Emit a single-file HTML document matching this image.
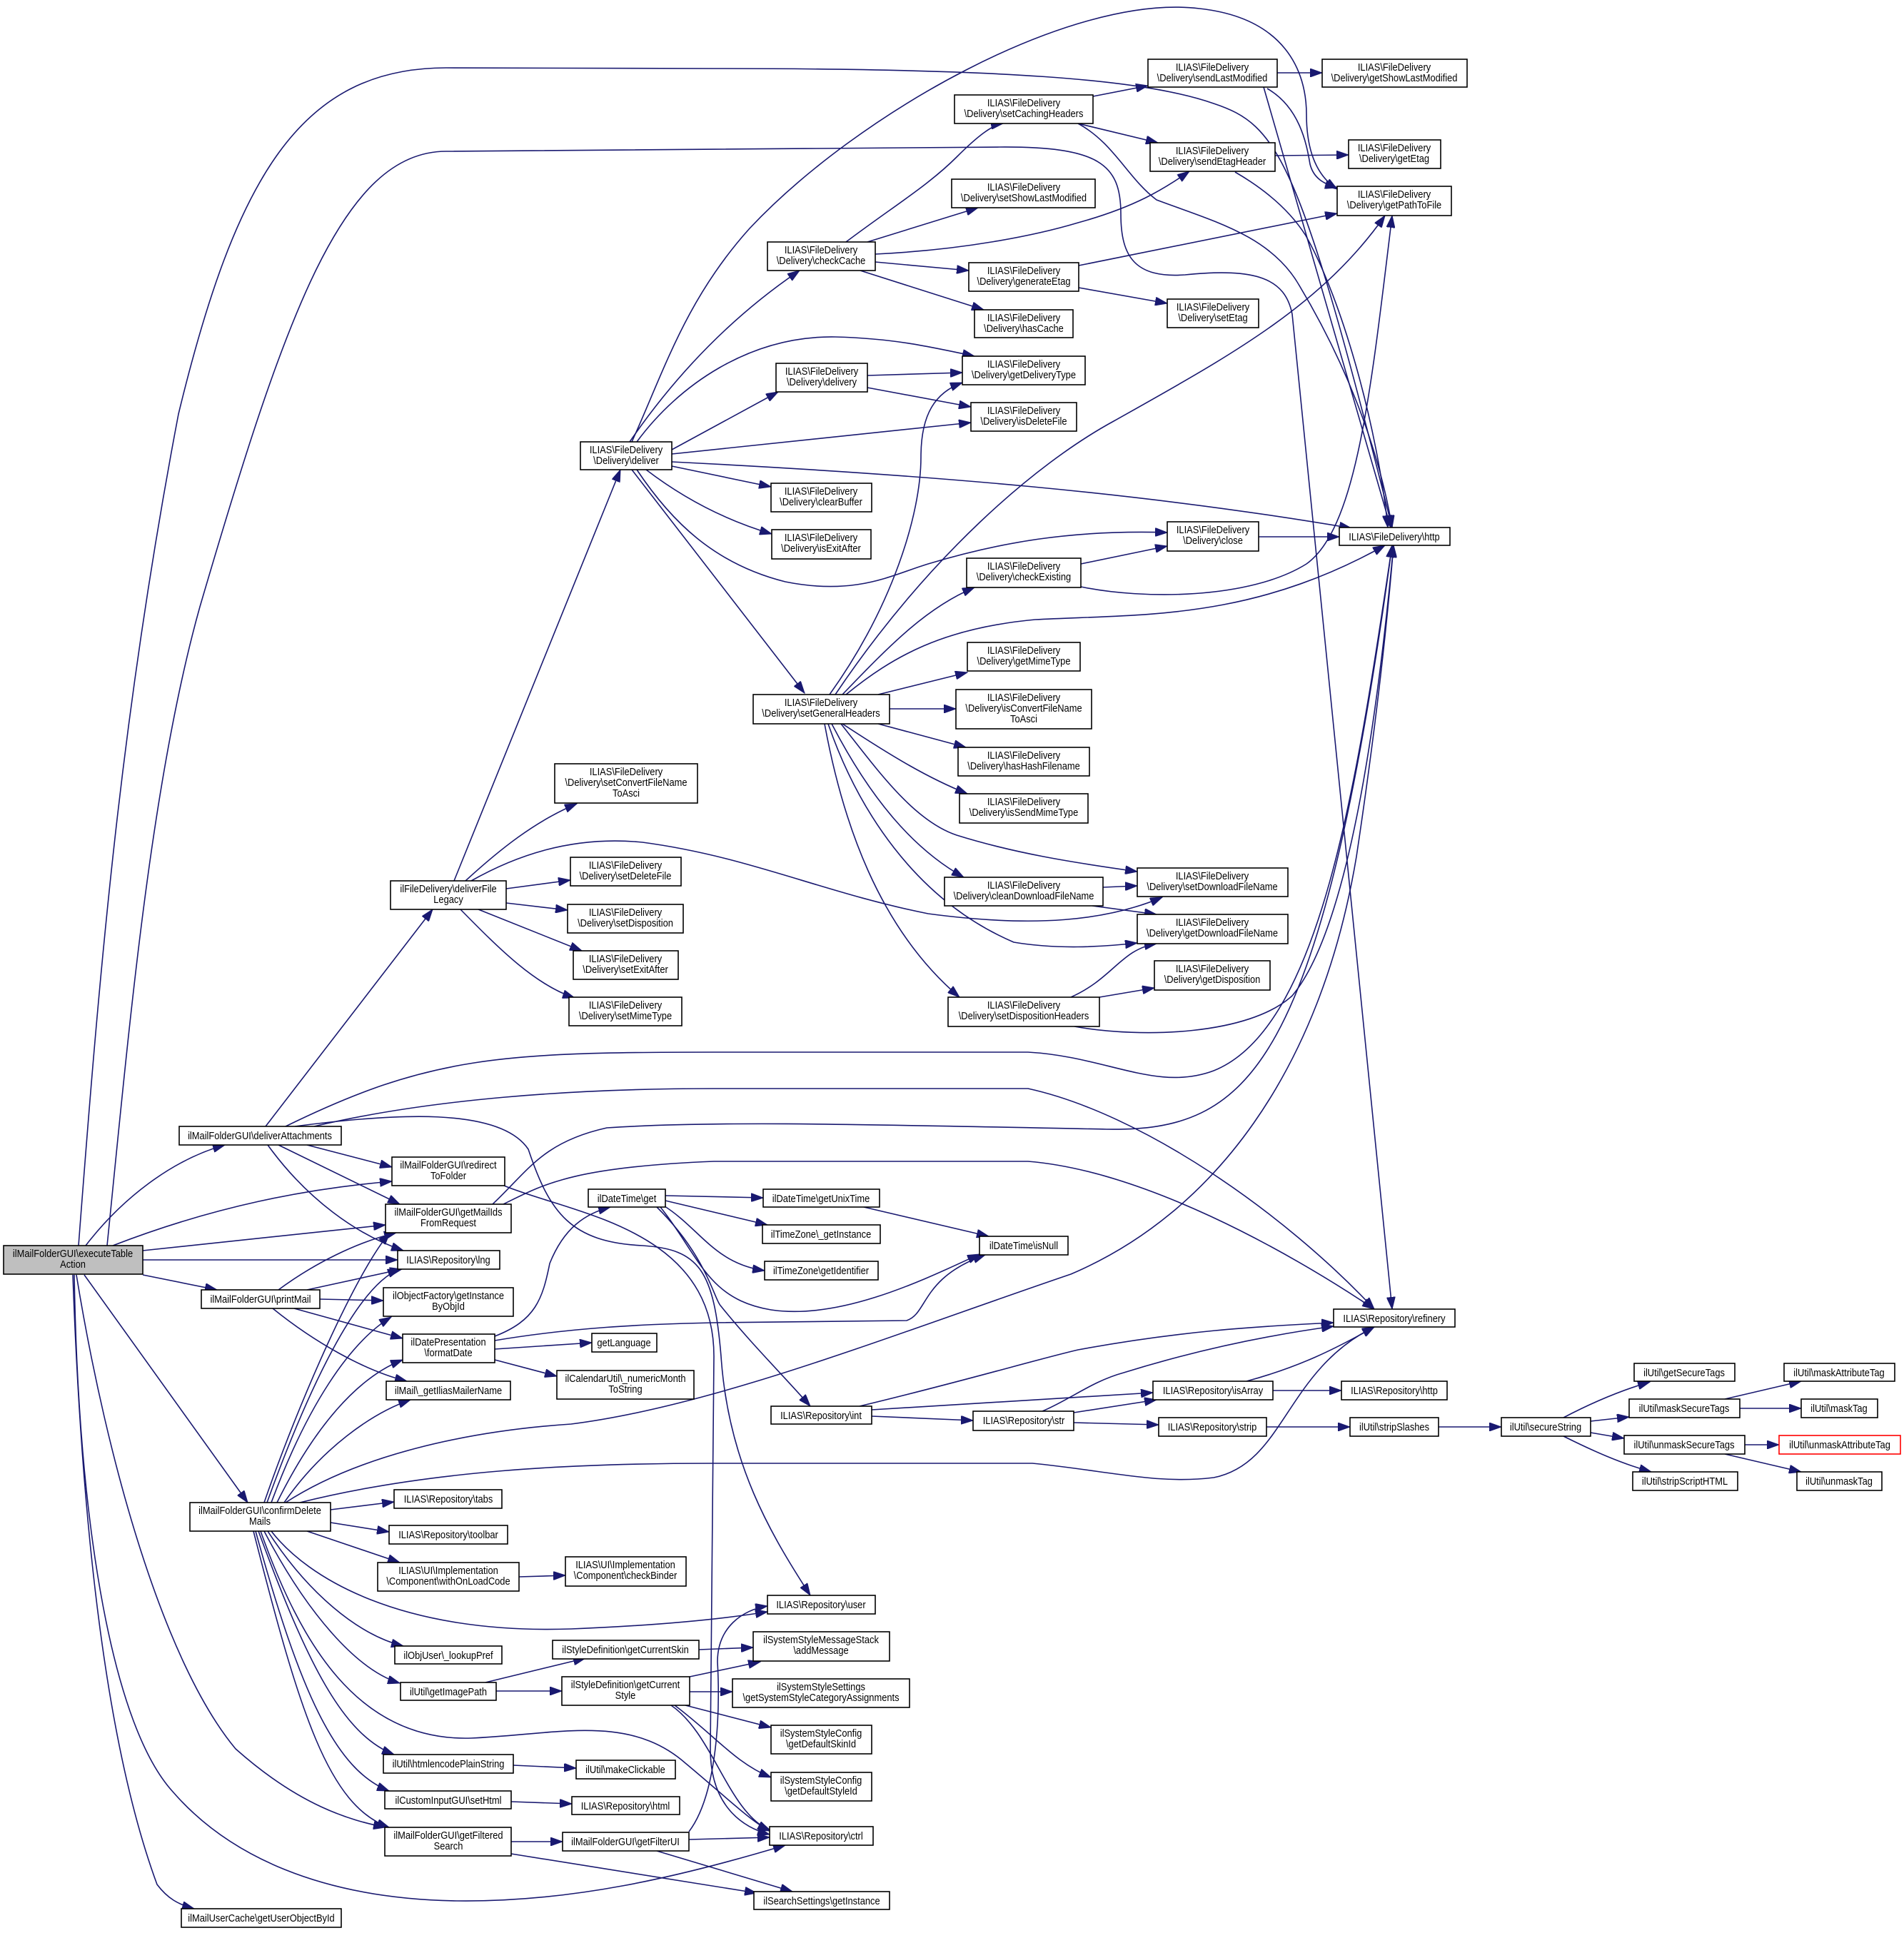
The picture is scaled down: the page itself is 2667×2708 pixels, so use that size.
<!DOCTYPE html>
<html><head><meta charset="utf-8"><style>
html,body{margin:0;padding:0;background:#fff}
svg{display:block}
text{font-family:"Liberation Sans",Arial,sans-serif;font-size:15px;text-anchor:middle;fill:#000}
.n rect{fill:#fff;stroke:#000;stroke-width:1.6}
.e path{fill:none;stroke:#191970;stroke-width:1.6;marker-end:url(#a)}
</style></head><body>
<svg width="2667" height="2708" viewBox="0 0 2667 2708" xmlns="http://www.w3.org/2000/svg">
<defs><marker id="a" markerUnits="userSpaceOnUse" markerWidth="18" markerHeight="12" refX="17" refY="6" orient="auto"><path d="M0,0 L17,6 L0,12 z" fill="#191970" stroke="#191970"/></marker></defs>
<g class="e">
<path d="M120,1745 C170,1680 240,1625 315,1604"/>
<path d="M158,1745 C300,1690 430,1665 549,1655"/>
<path d="M200,1752 L540,1716"/>
<path d="M200,1765 L557,1765"/>
<path d="M200,1786 L304,1807"/>
<path d="M118,1786 L347,2105"/>
<path d="M107,1786 C150,2050 230,2330 330,2450 C420,2530 490,2550 540,2560"/>
<path d="M104,1786 C110,2150 160,2420 242,2510 C320,2600 450,2660 640,2663 C800,2665 950,2630 1100,2585"/>
<path d="M102,1786 C115,2150 150,2450 220,2640 C235,2660 250,2668 272,2674"/>
<path d="M110,1745 C140,1350 170,1000 250,580 C330,250 420,95 625,95 L1000,96 C1400,96 1600,110 1700,145 C1790,175 1820,220 1950,739"/>
<path d="M150,1745 C180,1450 210,1100 280,850 C400,440 480,212 625,212 L1400,206 C1540,205 1570,230 1570,300 C1570,360 1590,390 1660,385 C1760,375 1800,390 1810,440 L1950,1834"/>
<path d="M372,1578 L606,1274"/>
<path d="M400,1578 C600,1480 700,1474 1000,1474 L1440,1474 C1550,1480 1620,1530 1700,1500 C1850,1440 1900,1100 1950,764"/>
<path d="M440,1578 C600,1540 800,1525 1000,1525 L1440,1525 C1600,1560 1800,1700 1925,1834"/>
<path d="M430,1604 L549,1635"/>
<path d="M390,1604 L560,1687"/>
<path d="M375,1604 C430,1680 500,1730 565,1752"/>
<path d="M413,1578 C550,1560 700,1550 740,1610 C770,1700 800,1740 900,1745 C980,1750 1000,1780 1010,1900 C1020,2050 1080,2150 1135,2235"/>
<path d="M390,1807 C440,1770 500,1740 555,1727"/>
<path d="M430,1807 L563,1778"/>
<path d="M448,1820 L537,1822"/>
<path d="M412,1833 L564,1875"/>
<path d="M382,1833 C440,1880 510,1920 570,1935"/>
<path d="M370,2105 C420,1960 500,1780 546,1727"/>
<path d="M374,2105 C430,1950 500,1800 560,1778"/>
<path d="M380,2105 C430,1970 490,1880 548,1845"/>
<path d="M388,2105 C440,2000 500,1930 564,1905"/>
<path d="M398,2105 C450,2030 520,1980 575,1961"/>
<path d="M400,2105 C500,2040 650,2005 800,1995 C1000,1970 1250,1870 1500,1785 C1700,1700 1850,1500 1900,1200 C1930,1000 1945,850 1952,764"/>
<path d="M420,2105 C600,2060 800,2050 1000,2050 L1446,2050 C1550,2060 1620,2080 1700,2070 C1800,2050 1800,1920 1925,1859"/>
<path d="M463,2115 L552,2104"/>
<path d="M463,2133 L545,2146"/>
<path d="M430,2145 L560,2189"/>
<path d="M380,2145 C430,2210 560,2290 800,2282 C900,2278 1000,2270 1075,2258"/>
<path d="M375,2145 C430,2230 500,2290 565,2306"/>
<path d="M370,2145 C430,2260 500,2340 560,2358"/>
<path d="M362,2145 C430,2330 480,2430 552,2458"/>
<path d="M358,2145 C420,2370 470,2480 545,2509"/>
<path d="M355,2145 C420,2400 460,2530 545,2560"/>
<path d="M365,2145 C420,2300 500,2440 660,2435 C780,2430 880,2400 960,2470 C1020,2520 1050,2550 1078,2565"/>
<path d="M706,1661 C800,1700 1000,1720 1000,1900 L995,2450 C995,2530 1040,2560 1078,2570"/>
<path d="M690,1687 C740,1640 760,1600 850,1580 C1000,1570 1200,1575 1550,1582 C1750,1585 1850,1500 1950,764"/>
<path d="M705,1687 C760,1660 800,1635 1000,1627 L1440,1627 C1600,1640 1800,1750 1925,1834"/>
<path d="M693,1872 C750,1850 760,1820 770,1770 C790,1720 820,1700 855,1691"/>
<path d="M693,1878 C800,1860 900,1855 1000,1853 L1270,1850 C1300,1840 1290,1790 1380,1758"/>
<path d="M693,1890 L829,1881"/>
<path d="M693,1905 L780,1928"/>
<path d="M932,1675 L1069,1678"/>
<path d="M932,1682 L1075,1716"/>
<path d="M928,1688 C980,1720 1000,1770 1071,1780"/>
<path d="M925,1691 C980,1760 990,1820 1080,1835 C1180,1850 1300,1790 1372,1757"/>
<path d="M920,1691 C990,1760 1000,1820 1010,1830 C1050,1880 1100,1930 1135,1970"/>
<path d="M1210,1691 L1385,1732"/>
<path d="M1204,1970 C1350,1935 1450,1905 1510,1891 C1650,1865 1760,1858 1868,1853"/>
<path d="M1221,1975 L1615,1951"/>
<path d="M1221,1984 L1363,1990"/>
<path d="M1460,1977 C1500,1960 1530,1935 1574,1923 C1680,1890 1780,1870 1868,1858"/>
<path d="M1504,1979 L1620,1961"/>
<path d="M1504,1993 L1623,1996"/>
<path d="M1746,1935 C1820,1915 1870,1890 1925,1859"/>
<path d="M1783,1948 L1879,1948"/>
<path d="M1774,1999 L1891,1999"/>
<path d="M2015,1999 L2103,1999"/>
<path d="M2190,1986 C2230,1965 2270,1948 2311,1936"/>
<path d="M2228,1991 L2282,1985"/>
<path d="M2228,2007 L2275,2015"/>
<path d="M2190,2012 C2230,2032 2270,2050 2313,2062"/>
<path d="M2416,1960 L2523,1935"/>
<path d="M2437,1973 L2523,1973"/>
<path d="M2444,2024 L2492,2024"/>
<path d="M2416,2037 L2523,2062"/>
<path d="M636,1234 L869,658"/>
<path d="M652,1234 C700,1190 750,1150 808,1126"/>
<path d="M660,1234 C720,1200 800,1170 900,1180 C1050,1200 1150,1250 1300,1280 C1450,1300 1550,1290 1628,1257"/>
<path d="M709,1245 L799,1233"/>
<path d="M709,1265 L795,1275"/>
<path d="M670,1274 L815,1332"/>
<path d="M645,1274 C700,1330 750,1380 805,1398"/>
<path d="M882,619 C950,520 1030,440 1120,379"/>
<path d="M885,619 C930,520 960,420 1050,320 C1200,160 1500,-10 1680,12 C1800,25 1830,100 1830,160 C1830,220 1850,250 1873,265"/>
<path d="M892,619 C950,540 1050,470 1170,472 C1250,474 1300,485 1365,499"/>
<path d="M941,630 L1090,549"/>
<path d="M941,636 L1360,592"/>
<path d="M941,647 C1300,665 1600,690 1893,740"/>
<path d="M941,653 L1080,682"/>
<path d="M905,658 C960,700 1020,730 1081,748"/>
<path d="M892,658 C940,730 1000,790 1100,815 C1200,835 1250,805 1300,790 C1400,760 1500,742 1635,746"/>
<path d="M885,658 L1127,971"/>
<path d="M1185,339 C1250,290 1300,260 1340,220 C1370,190 1390,175 1405,173"/>
<path d="M1215,339 L1370,291"/>
<path d="M1226,356 C1350,350 1450,330 1510,312 C1590,290 1630,265 1666,240"/>
<path d="M1226,367 L1357,379"/>
<path d="M1205,379 L1378,434"/>
<path d="M1531,135 L1608,120"/>
<path d="M1510,173 L1622,200"/>
<path d="M1510,173 C1560,200 1580,250 1620,280 C1700,310 1780,330 1820,400 C1880,500 1930,620 1950,739"/>
<path d="M1789,102 L1852,102"/>
<path d="M1775,124 C1820,150 1830,200 1835,230 C1840,250 1855,258 1873,263"/>
<path d="M1770,122 L1948,739"/>
<path d="M1786,218 L1889,217"/>
<path d="M1730,241 C1780,270 1810,300 1829,330 C1880,420 1930,600 1944,739"/>
<path d="M1511,372 L1873,299"/>
<path d="M1511,403 L1635,425"/>
<path d="M1215,526 L1348,522"/>
<path d="M1215,543 L1360,570"/>
<path d="M1763,752 L1876,752"/>
<path d="M1514,790 L1635,765"/>
<path d="M1514,822 C1600,840 1750,840 1830,790 C1900,740 1920,550 1950,302"/>
<path d="M1162,973 C1250,850 1290,720 1290,640 C1290,580 1310,550 1348,536"/>
<path d="M1170,973 C1300,780 1450,650 1560,590 C1720,500 1850,430 1940,302"/>
<path d="M1180,973 C1250,900 1300,850 1365,823"/>
<path d="M1185,973 C1250,920 1320,880 1450,868 C1600,860 1750,870 1940,764"/>
<path d="M1230,973 L1355,942"/>
<path d="M1246,993 L1339,993"/>
<path d="M1230,1014 L1353,1047"/>
<path d="M1180,1014 C1250,1060 1300,1090 1355,1112"/>
<path d="M1178,1014 C1230,1080 1280,1150 1340,1170 C1420,1195 1500,1208 1593,1221"/>
<path d="M1165,1014 C1220,1120 1280,1190 1350,1229"/>
<path d="M1160,1014 C1200,1130 1280,1260 1420,1320 C1480,1330 1540,1327 1593,1321"/>
<path d="M1155,1014 C1180,1150 1230,1300 1344,1397"/>
<path d="M1545,1243 L1593,1241"/>
<path d="M1530,1269 L1620,1281"/>
<path d="M1500,1397 C1560,1370 1570,1330 1620,1322"/>
<path d="M1540,1397 L1617,1384"/>
<path d="M1505,1438 C1600,1455 1750,1450 1810,1395 C1890,1300 1930,1000 1952,764"/>
<path d="M727,2209 L792,2207"/>
<path d="M680,2357 L820,2323"/>
<path d="M695,2369 L787,2369"/>
<path d="M979,2311 L1055,2308"/>
<path d="M966,2349 L1065,2328"/>
<path d="M966,2370 L1026,2370"/>
<path d="M960,2389 L1080,2420"/>
<path d="M945,2389 C1000,2430 1030,2470 1080,2490"/>
<path d="M940,2389 C1000,2430 1020,2540 1080,2565"/>
<path d="M719,2473 L807,2477"/>
<path d="M716,2524 L801,2527"/>
<path d="M716,2580 L788,2580"/>
<path d="M716,2597 L1060,2652"/>
<path d="M965,2577 L1078,2574"/>
<path d="M920,2593 L1110,2650"/>
<path d="M965,2566 C1000,2520 1010,2420 1005,2328 C1005,2280 1040,2255 1075,2250"/>
</g>
<g class="n">
<rect x="5" y="1745" width="195" height="40" style="fill:#bfbfbf"/><text transform="translate(102,1761) scale(.86,1)">ilMailFolderGUI\executeTable</text><text transform="translate(102,1776) scale(.86,1)">Action</text>
<rect x="251" y="1578" width="227" height="26"/><text transform="translate(364,1596) scale(.86,1)">ilMailFolderGUI\deliverAttachments</text>
<rect x="282" y="1807" width="166" height="26"/><text transform="translate(365,1825) scale(.86,1)">ilMailFolderGUI\printMail</text>
<rect x="266" y="2105" width="197" height="40"/><text transform="translate(364,2121) scale(.86,1)">ilMailFolderGUI\confirmDelete</text><text transform="translate(364,2136) scale(.86,1)">Mails</text>
<rect x="254" y="2674" width="224" height="26"/><text transform="translate(366,2692) scale(.86,1)">ilMailUserCache\getUserObjectById</text>
<rect x="547" y="1234" width="162" height="40"/><text transform="translate(628,1250) scale(.86,1)">ilFileDelivery\deliverFile</text><text transform="translate(628,1265) scale(.86,1)">Legacy</text>
<rect x="549" y="1621" width="158" height="40"/><text transform="translate(628,1637) scale(.86,1)">ilMailFolderGUI\redirect</text><text transform="translate(628,1652) scale(.86,1)">ToFolder</text>
<rect x="540" y="1687" width="176" height="40"/><text transform="translate(628,1703) scale(.86,1)">ilMailFolderGUI\getMailIds</text><text transform="translate(628,1718) scale(.86,1)">FromRequest</text>
<rect x="557" y="1752" width="143" height="26"/><text transform="translate(628,1770) scale(.86,1)">ILIAS\Repository\lng</text>
<rect x="537" y="1804" width="182" height="40"/><text transform="translate(628,1820) scale(.86,1)">ilObjectFactory\getInstance</text><text transform="translate(628,1835) scale(.86,1)">ByObjId</text>
<rect x="564" y="1869" width="129" height="40"/><text transform="translate(628,1885) scale(.86,1)">ilDatePresentation</text><text transform="translate(628,1900) scale(.86,1)">\formatDate</text>
<rect x="541" y="1935" width="174" height="26"/><text transform="translate(628,1953) scale(.86,1)">ilMail\_getIliasMailerName</text>
<rect x="552" y="2087" width="151" height="26"/><text transform="translate(628,2105) scale(.86,1)">ILIAS\Repository\tabs</text>
<rect x="545" y="2137" width="166" height="26"/><text transform="translate(628,2155) scale(.86,1)">ILIAS\Repository\toolbar</text>
<rect x="529" y="2189" width="198" height="40"/><text transform="translate(628,2205) scale(.86,1)">ILIAS\UI\Implementation</text><text transform="translate(628,2220) scale(.86,1)">\Component\withOnLoadCode</text>
<rect x="553" y="2306" width="150" height="25"/><text transform="translate(628,2324) scale(.86,1)">ilObjUser\_lookupPref</text>
<rect x="561" y="2357" width="134" height="25"/><text transform="translate(628,2375) scale(.86,1)">ilUtil\getImagePath</text>
<rect x="537" y="2458" width="182" height="26"/><text transform="translate(628,2476) scale(.86,1)">ilUtil\htmlencodePlainString</text>
<rect x="539" y="2509" width="177" height="25"/><text transform="translate(628,2527) scale(.86,1)">ilCustomInputGUI\setHtml</text>
<rect x="539" y="2560" width="177" height="40"/><text transform="translate(628,2576) scale(.86,1)">ilMailFolderGUI\getFiltered</text><text transform="translate(628,2591) scale(.86,1)">Search</text>
<rect x="813" y="619" width="128" height="39"/><text transform="translate(877,635) scale(.86,1)">ILIAS\FileDelivery</text><text transform="translate(877,650) scale(.86,1)">\Delivery\deliver</text>
<rect x="777" y="1070" width="200" height="55"/><text transform="translate(877,1086) scale(.86,1)">ILIAS\FileDelivery</text><text transform="translate(877,1101) scale(.86,1)">\Delivery\setConvertFileName</text><text transform="translate(877,1116) scale(.86,1)">ToAsci</text>
<rect x="799" y="1201" width="155" height="40"/><text transform="translate(876,1217) scale(.86,1)">ILIAS\FileDelivery</text><text transform="translate(876,1232) scale(.86,1)">\Delivery\setDeleteFile</text>
<rect x="795" y="1267" width="162" height="40"/><text transform="translate(876,1283) scale(.86,1)">ILIAS\FileDelivery</text><text transform="translate(876,1298) scale(.86,1)">\Delivery\setDisposition</text>
<rect x="803" y="1332" width="147" height="40"/><text transform="translate(876,1348) scale(.86,1)">ILIAS\FileDelivery</text><text transform="translate(876,1363) scale(.86,1)">\Delivery\setExitAfter</text>
<rect x="797" y="1397" width="158" height="40"/><text transform="translate(876,1413) scale(.86,1)">ILIAS\FileDelivery</text><text transform="translate(876,1428) scale(.86,1)">\Delivery\setMimeType</text>
<rect x="824" y="1666" width="108" height="25"/><text transform="translate(878,1684) scale(.86,1)">ilDateTime\get</text>
<rect x="829" y="1868" width="91" height="26"/><text transform="translate(874,1886) scale(.86,1)">getLanguage</text>
<rect x="780" y="1920" width="192" height="40"/><text transform="translate(876,1936) scale(.86,1)">ilCalendarUtil\_numericMonth</text><text transform="translate(876,1951) scale(.86,1)">ToString</text>
<rect x="792" y="2181" width="169" height="41"/><text transform="translate(876,2197) scale(.86,1)">ILIAS\UI\Implementation</text><text transform="translate(876,2212) scale(.86,1)">\Component\checkBinder</text>
<rect x="774" y="2298" width="205" height="26"/><text transform="translate(876,2316) scale(.86,1)">ilStyleDefinition\getCurrentSkin</text>
<rect x="787" y="2349" width="179" height="40"/><text transform="translate(876,2365) scale(.86,1)">ilStyleDefinition\getCurrent</text><text transform="translate(876,2380) scale(.86,1)">Style</text>
<rect x="807" y="2466" width="139" height="26"/><text transform="translate(876,2484) scale(.86,1)">ilUtil\makeClickable</text>
<rect x="801" y="2517" width="151" height="25"/><text transform="translate(876,2535) scale(.86,1)">ILIAS\Repository\html</text>
<rect x="788" y="2567" width="177" height="26"/><text transform="translate(876,2585) scale(.86,1)">ilMailFolderGUI\getFilterUI</text>
<rect x="1075" y="339" width="151" height="40"/><text transform="translate(1150,355) scale(.86,1)">ILIAS\FileDelivery</text><text transform="translate(1150,370) scale(.86,1)">\Delivery\checkCache</text>
<rect x="1087" y="509" width="128" height="40"/><text transform="translate(1151,525) scale(.86,1)">ILIAS\FileDelivery</text><text transform="translate(1151,540) scale(.86,1)">\Delivery\delivery</text>
<rect x="1080" y="677" width="141" height="40"/><text transform="translate(1150,693) scale(.86,1)">ILIAS\FileDelivery</text><text transform="translate(1150,708) scale(.86,1)">\Delivery\clearBuffer</text>
<rect x="1081" y="742" width="139" height="41"/><text transform="translate(1150,758) scale(.86,1)">ILIAS\FileDelivery</text><text transform="translate(1150,773) scale(.86,1)">\Delivery\isExitAfter</text>
<rect x="1055" y="973" width="191" height="41"/><text transform="translate(1150,989) scale(.86,1)">ILIAS\FileDelivery</text><text transform="translate(1150,1004) scale(.86,1)">\Delivery\setGeneralHeaders</text>
<rect x="1069" y="1666" width="163" height="25"/><text transform="translate(1150,1684) scale(.86,1)">ilDateTime\getUnixTime</text>
<rect x="1068" y="1716" width="165" height="26"/><text transform="translate(1150,1734) scale(.86,1)">ilTimeZone\_getInstance</text>
<rect x="1071" y="1767" width="159" height="26"/><text transform="translate(1150,1785) scale(.86,1)">ilTimeZone\getIdentifier</text>
<rect x="1080" y="1970" width="141" height="25"/><text transform="translate(1150,1988) scale(.86,1)">ILIAS\Repository\int</text>
<rect x="1075" y="2235" width="151" height="26"/><text transform="translate(1150,2253) scale(.86,1)">ILIAS\Repository\user</text>
<rect x="1055" y="2286" width="191" height="41"/><text transform="translate(1150,2302) scale(.86,1)">ilSystemStyleMessageStack</text><text transform="translate(1150,2317) scale(.86,1)">\addMessage</text>
<rect x="1026" y="2352" width="248" height="40"/><text transform="translate(1150,2368) scale(.86,1)">ilSystemStyleSettings</text><text transform="translate(1150,2383) scale(.86,1)">\getSystemStyleCategoryAssignments</text>
<rect x="1080" y="2417" width="141" height="40"/><text transform="translate(1150,2433) scale(.86,1)">ilSystemStyleConfig</text><text transform="translate(1150,2448) scale(.86,1)">\getDefaultSkinId</text>
<rect x="1080" y="2483" width="141" height="40"/><text transform="translate(1150,2499) scale(.86,1)">ilSystemStyleConfig</text><text transform="translate(1150,2514) scale(.86,1)">\getDefaultStyleId</text>
<rect x="1078" y="2559" width="145" height="26"/><text transform="translate(1150,2577) scale(.86,1)">ILIAS\Repository\ctrl</text>
<rect x="1056" y="2650" width="190" height="25"/><text transform="translate(1151,2668) scale(.86,1)">ilSearchSettings\getInstance</text>
<rect x="1337" y="133" width="194" height="40"/><text transform="translate(1434,149) scale(.86,1)">ILIAS\FileDelivery</text><text transform="translate(1434,164) scale(.86,1)">\Delivery\setCachingHeaders</text>
<rect x="1333" y="251" width="201" height="40"/><text transform="translate(1434,267) scale(.86,1)">ILIAS\FileDelivery</text><text transform="translate(1434,282) scale(.86,1)">\Delivery\setShowLastModified</text>
<rect x="1357" y="368" width="154" height="40"/><text transform="translate(1434,384) scale(.86,1)">ILIAS\FileDelivery</text><text transform="translate(1434,399) scale(.86,1)">\Delivery\generateEtag</text>
<rect x="1365" y="434" width="138" height="39"/><text transform="translate(1434,450) scale(.86,1)">ILIAS\FileDelivery</text><text transform="translate(1434,465) scale(.86,1)">\Delivery\hasCache</text>
<rect x="1348" y="499" width="172" height="40"/><text transform="translate(1434,515) scale(.86,1)">ILIAS\FileDelivery</text><text transform="translate(1434,530) scale(.86,1)">\Delivery\getDeliveryType</text>
<rect x="1360" y="564" width="148" height="40"/><text transform="translate(1434,580) scale(.86,1)">ILIAS\FileDelivery</text><text transform="translate(1434,595) scale(.86,1)">\Delivery\isDeleteFile</text>
<rect x="1354" y="782" width="160" height="41"/><text transform="translate(1434,798) scale(.86,1)">ILIAS\FileDelivery</text><text transform="translate(1434,813) scale(.86,1)">\Delivery\checkExisting</text>
<rect x="1355" y="900" width="158" height="40"/><text transform="translate(1434,916) scale(.86,1)">ILIAS\FileDelivery</text><text transform="translate(1434,931) scale(.86,1)">\Delivery\getMimeType</text>
<rect x="1339" y="966" width="190" height="55"/><text transform="translate(1434,982) scale(.86,1)">ILIAS\FileDelivery</text><text transform="translate(1434,997) scale(.86,1)">\Delivery\isConvertFileName</text><text transform="translate(1434,1012) scale(.86,1)">ToAsci</text>
<rect x="1342" y="1047" width="184" height="40"/><text transform="translate(1434,1063) scale(.86,1)">ILIAS\FileDelivery</text><text transform="translate(1434,1078) scale(.86,1)">\Delivery\hasHashFilename</text>
<rect x="1344" y="1112" width="180" height="41"/><text transform="translate(1434,1128) scale(.86,1)">ILIAS\FileDelivery</text><text transform="translate(1434,1143) scale(.86,1)">\Delivery\isSendMimeType</text>
<rect x="1323" y="1229" width="222" height="40"/><text transform="translate(1434,1245) scale(.86,1)">ILIAS\FileDelivery</text><text transform="translate(1434,1260) scale(.86,1)">\Delivery\cleanDownloadFileName</text>
<rect x="1328" y="1397" width="212" height="41"/><text transform="translate(1434,1413) scale(.86,1)">ILIAS\FileDelivery</text><text transform="translate(1434,1428) scale(.86,1)">\Delivery\setDispositionHeaders</text>
<rect x="1372" y="1732" width="124" height="26"/><text transform="translate(1434,1750) scale(.86,1)">ilDateTime\isNull</text>
<rect x="1363" y="1977" width="141" height="27"/><text transform="translate(1434,1995) scale(.86,1)">ILIAS\Repository\str</text>
<rect x="1608" y="83" width="181" height="39"/><text transform="translate(1698,99) scale(.86,1)">ILIAS\FileDelivery</text><text transform="translate(1698,114) scale(.86,1)">\Delivery\sendLastModified</text>
<rect x="1611" y="200" width="175" height="40"/><text transform="translate(1698,216) scale(.86,1)">ILIAS\FileDelivery</text><text transform="translate(1698,231) scale(.86,1)">\Delivery\sendEtagHeader</text>
<rect x="1635" y="419" width="128" height="40"/><text transform="translate(1699,435) scale(.86,1)">ILIAS\FileDelivery</text><text transform="translate(1699,450) scale(.86,1)">\Delivery\setEtag</text>
<rect x="1635" y="731" width="128" height="41"/><text transform="translate(1699,747) scale(.86,1)">ILIAS\FileDelivery</text><text transform="translate(1699,762) scale(.86,1)">\Delivery\close</text>
<rect x="1593" y="1216" width="211" height="40"/><text transform="translate(1698,1232) scale(.86,1)">ILIAS\FileDelivery</text><text transform="translate(1698,1247) scale(.86,1)">\Delivery\setDownloadFileName</text>
<rect x="1593" y="1281" width="211" height="41"/><text transform="translate(1698,1297) scale(.86,1)">ILIAS\FileDelivery</text><text transform="translate(1698,1312) scale(.86,1)">\Delivery\getDownloadFileName</text>
<rect x="1617" y="1346" width="162" height="41"/><text transform="translate(1698,1362) scale(.86,1)">ILIAS\FileDelivery</text><text transform="translate(1698,1377) scale(.86,1)">\Delivery\getDisposition</text>
<rect x="1615" y="1935" width="168" height="26"/><text transform="translate(1699,1953) scale(.86,1)">ILIAS\Repository\isArray</text>
<rect x="1623" y="1986" width="151" height="26"/><text transform="translate(1698,2004) scale(.86,1)">ILIAS\Repository\strip</text>
<rect x="1852" y="83" width="203" height="39"/><text transform="translate(1953,99) scale(.86,1)">ILIAS\FileDelivery</text><text transform="translate(1953,114) scale(.86,1)">\Delivery\getShowLastModified</text>
<rect x="1889" y="196" width="129" height="40"/><text transform="translate(1953,212) scale(.86,1)">ILIAS\FileDelivery</text><text transform="translate(1953,227) scale(.86,1)">\Delivery\getEtag</text>
<rect x="1873" y="261" width="160" height="41"/><text transform="translate(1953,277) scale(.86,1)">ILIAS\FileDelivery</text><text transform="translate(1953,292) scale(.86,1)">\Delivery\getPathToFile</text>
<rect x="1876" y="739" width="155" height="25"/><text transform="translate(1953,757) scale(.86,1)">ILIAS\FileDelivery\http</text>
<rect x="1868" y="1834" width="170" height="25"/><text transform="translate(1953,1852) scale(.86,1)">ILIAS\Repository\refinery</text>
<rect x="1879" y="1935" width="148" height="26"/><text transform="translate(1953,1953) scale(.86,1)">ILIAS\Repository\http</text>
<rect x="1891" y="1986" width="124" height="26"/><text transform="translate(1953,2004) scale(.86,1)">ilUtil\stripSlashes</text>
<rect x="2103" y="1986" width="125" height="26"/><text transform="translate(2165,2004) scale(.86,1)">ilUtil\secureString</text>
<rect x="2289" y="1910" width="141" height="25"/><text transform="translate(2359,1928) scale(.86,1)">ilUtil\getSecureTags</text>
<rect x="2282" y="1960" width="155" height="26"/><text transform="translate(2359,1978) scale(.86,1)">ilUtil\maskSecureTags</text>
<rect x="2275" y="2011" width="169" height="26"/><text transform="translate(2359,2029) scale(.86,1)">ilUtil\unmaskSecureTags</text>
<rect x="2287" y="2062" width="147" height="26"/><text transform="translate(2360,2080) scale(.86,1)">ilUtil\stripScriptHTML</text>
<rect x="2499" y="1910" width="155" height="25"/><text transform="translate(2576,1928) scale(.86,1)">ilUtil\maskAttributeTag</text>
<rect x="2523" y="1960" width="107" height="26"/><text transform="translate(2576,1978) scale(.86,1)">ilUtil\maskTag</text>
<rect x="2492" y="2011" width="170" height="26" style="stroke:#ff0000"/><text transform="translate(2577,2029) scale(.86,1)">ilUtil\unmaskAttributeTag</text>
<rect x="2517" y="2062" width="119" height="26"/><text transform="translate(2576,2080) scale(.86,1)">ilUtil\unmaskTag</text>
</g>
</svg>
</body></html>
